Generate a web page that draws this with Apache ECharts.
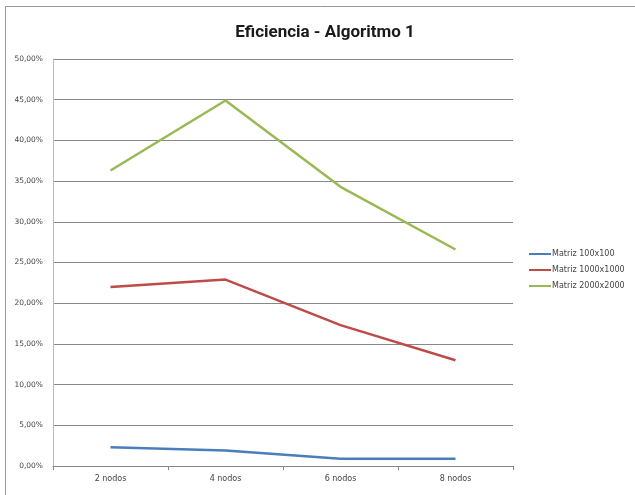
<!DOCTYPE html>
<html><head><meta charset="utf-8">
<script src="https://cdn.jsdelivr.net/npm/echarts@6/dist/echarts.min.js"></script>
<style>html,body{margin:0;padding:0;background:#fff}#c{width:635px;height:495px}</style>
</head><body><div id="c"></div>
<script>
var categories = ['2 nodos', '4 nodos', '6 nodos', '8 nodos'];
var seriesNames = ['Matriz 100x100', 'Matriz 1000x1000', 'Matriz 2000x2000'];
var m100 = [2.3, 1.9, 0.9, 0.9];
var m1000 = [22.0, 22.9, 17.3, 13.0];
var m2000 = [36.3, 44.9, 34.3, 26.6];
var colors = ['#4A7EBB', '#BE4B48', '#98B954'];

var chart = echarts.init(document.getElementById('c'), null, {renderer: 'canvas'});
function mk(name, data, color) {
  return {name: name, type: 'line', data: data, symbol: 'none', smooth: false,
    lineStyle: {color: color, width: 2.5}, itemStyle: {color: color}};
}
chart.setOption({
  animation: false,
  backgroundColor: '#fff',
  title: {text: 'Eficiencia - Algoritmo 1', left: 320, top: 19, textAlign: 'center',
    textStyle: {fontFamily: '"Liberation Sans Narrow", "Roboto"', fontSize: 17, fontWeight: 'bold', color: '#1a1a1a'}},
  graphic: [{type: 'rect', shape: {x: 5.5, y: 6.5, width: 700, height: 600},
    style: {fill: null, stroke: '#999', lineWidth: 1}, z: -1}],
  legend: {orient: 'vertical', left: 524, top: 245, itemGap: 8, itemWidth: 22, itemHeight: 2,
    icon: 'rect', data: seriesNames,
    textStyle: {fontFamily: 'DejaVu Sans', fontSize: 8, color: '#444', padding: [0, 0, 0, -4]}},
  grid: {left: 53, right: 122, top: 59, bottom: 29},
  xAxis: {type: 'category', data: categories, boundaryGap: true,
    axisLine: {lineStyle: {color: '#888', width: 1}},
    axisTick: {show: true, length: 4, lineStyle: {color: '#888'}},
    axisLabel: {fontFamily: 'DejaVu Sans', fontSize: 8, color: '#444', margin: 9}},
  yAxis: {type: 'value', min: 0, max: 50, interval: 5,
    axisLine: {show: true, lineStyle: {color: '#bbb'}},
    axisTick: {show: false},
    splitLine: {lineStyle: {color: '#888', width: 1}},
    axisLabel: {fontFamily: 'DejaVu Sans', fontSize: 7.5, color: '#444', margin: 10,
      formatter: function (v) { return v.toFixed(2).replace('.', ',') + '%'; }}},
  series: [mk(seriesNames[0], m100, colors[0]), mk(seriesNames[1], m1000, colors[1]), mk(seriesNames[2], m2000, colors[2])]
});
</script></body></html>
